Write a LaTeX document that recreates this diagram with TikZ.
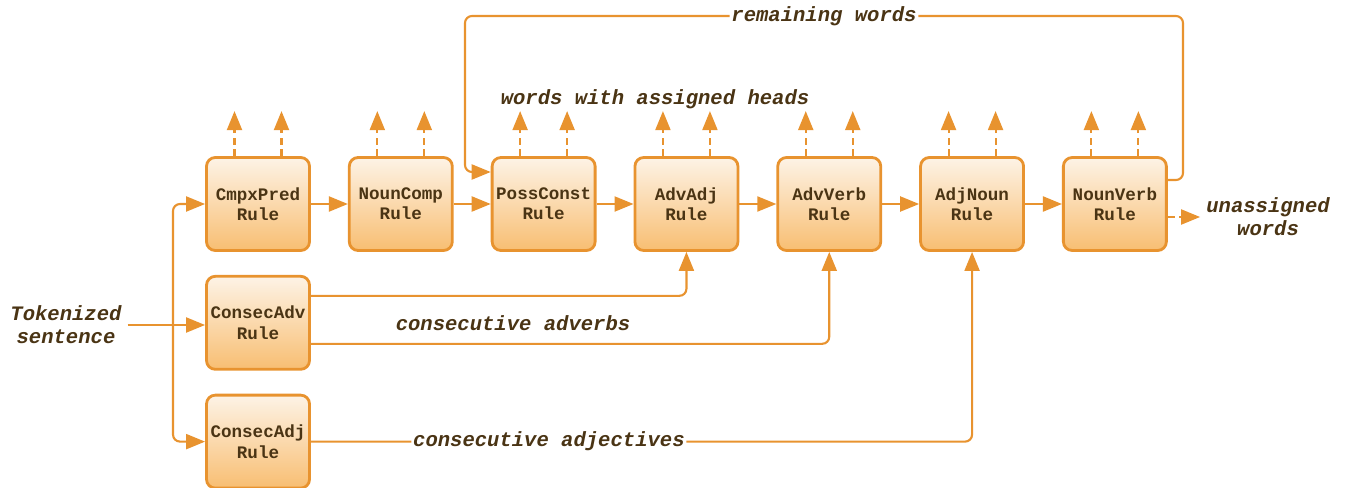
\documentclass[tikz,border=0pt]{standalone}
\usepackage{fontspec}
\setmonofont{Liberation Mono}
\usetikzlibrary{positioning,arrows.meta}
\definecolor{rulebrd}{HTML}{E8932F}
\definecolor{rulelight}{HTML}{FDF3E6}
\definecolor{ruledark}{HTML}{F8BE72}
\definecolor{txtbrown}{HTML}{4A3414}
\tikzset{
  rulebox/.style={draw=rulebrd, line width=1.6pt, rounded corners=5pt, top color=rulelight, bottom color=ruledark,
    minimum width=2.06cm, minimum height=1.86cm, inner xsep=0pt, align=center, text=txtbrown,
    font=\ttfamily\bfseries\fontsize{10}{11.5}\selectfont},
  flow/.style={draw=rulebrd, line width=1.2pt, rounded corners=4pt, -{Triangle[length=0.38cm,width=0.3cm]}},
  outflow/.style={flow, dash pattern=on 4pt off 2.5pt},
  lbl/.style={text=txtbrown, align=center, font=\ttfamily\bfseries\itshape\fontsize{11.7}{13}\selectfont},
}
\begin{document}
\begin{tikzpicture}
        \useasboundingbox (0,0) rectangle (26.94,-9.76);
        % rule pipeline
        \node[rulebox] (cmpx) at (5.16,-4.08) {CmpxPred\\Rule};
        \node[rulebox, right=0.74cm of cmpx] (ncomp) {NounComp\\Rule};
        \node[rulebox, right=0.74cm of ncomp] (pcon) {PossConst\\Rule};
        \node[rulebox, right=0.74cm of pcon] (aadj) {AdvAdj\\Rule};
        \node[rulebox, right=0.74cm of aadj] (averb) {AdvVerb\\Rule};
        \node[rulebox, right=0.74cm of averb] (anoun) {AdjNoun\\Rule};
        \node[rulebox, right=0.74cm of anoun] (nverb) {NounVerb\\Rule};
        \node[rulebox, below=0.46cm of cmpx] (cadv) {ConsecAdv\\Rule};
        \node[rulebox, below=0.46cm of cadv] (cadj) {ConsecAdj\\Rule};

        \node[lbl] (tok) at (1.32,-6.5) {Tokenized\\sentence};
        \node[lbl] (heads) at (13.1,-1.98) {words with assigned heads};
        \node[lbl] (advs) at (10.26,-6.46) {consecutive adverbs};
        \node[lbl] (unas) at (25.36,-4.34) {unassigned\\words};
        \coordinate (split) at (3.46,-6.5);
        \coordinate (loopR) at (23.66,-0.32);
        \coordinate (loopL) at (9.3,-0.32);

        \draw[flow] (tok.east) -- (tok.east -| cadv.west);
        \draw[flow] (split) |- (cmpx.west);
        \draw[flow] (split) |- (cadj.west);
        \foreach \a/\b in {cmpx/ncomp, ncomp/pcon, pcon/aadj, aadj/averb, averb/anoun, anoun/nverb}
            \draw[flow] (\a) -- (\b);
        \foreach \n in {cmpx, ncomp, pcon, aadj, averb, anoun, nverb} {
            \draw[outflow] ([xshift=-0.47cm]\n.north) -- ++(0,0.9);
            \draw[outflow] ([xshift=0.47cm]\n.north) -- ++(0,0.9);
        }
        \draw[flow] ([yshift=0.48cm]nverb.east) -| (loopR) -- node[lbl, fill=white, inner sep=1pt] {remaining words} (loopL) |- ([yshift=0.64cm]pcon.west);
        \draw[outflow] (nverb.east |- unas) -- (unas.west);
        \draw[flow] ([yshift=0.54cm]cadv.east) -| (aadj.south);
        \draw[flow] ([yshift=-0.42cm]cadv.east) -| (averb.south);
        \draw[flow] (cadj.east) -| node[pos=0.18, lbl, fill=white, inner sep=1pt] {consecutive adjectives} (anoun.south);
\end{tikzpicture}
\end{document}
